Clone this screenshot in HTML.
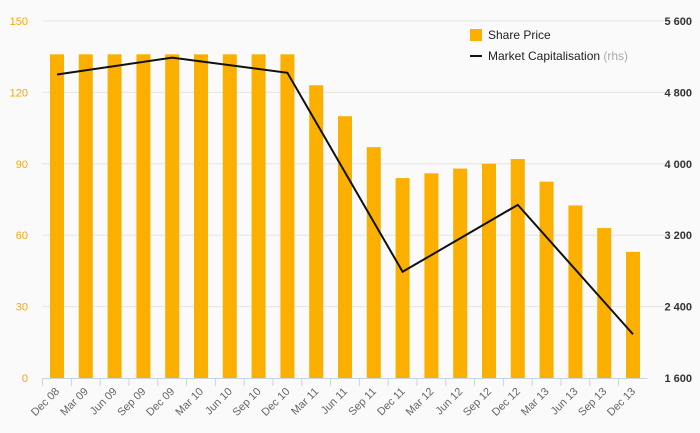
<!DOCTYPE html>
<html><head><meta charset="utf-8"><style>
body{margin:0;background:#fafafa;font-family:"Liberation Sans",sans-serif}
</style></head><body>
<svg id="c" width="700" height="433" xmlns="http://www.w3.org/2000/svg" style="display:block;background:#fafafa"></svg>
<script>
const categories=["Dec 08","Mar 09","Jun 09","Sep 09","Dec 09","Mar 10","Jun 10","Sep 10","Dec 10","Mar 11","Jun 11","Sep 11","Dec 11","Mar 12","Jun 12","Sep 12","Dec 12","Mar 13","Jun 13","Sep 13","Dec 13"];
const sharePrice=[136,136,136,136,136,136,136,136,136,123,110,97,84,86,88,90,92,82.5,72.5,63,53];
const marketCapIdx=[0,4,8,12,16,20];
const marketCap=[5000,5190,5020,2790,3540,2090];
const leftTicks=[0,30,60,90,120,150];
const rightTicks=[1600,2400,3200,4000,4800,5600];
const rightTickLabels=["1 600","2 400","3 200","4 000","4 800","5 600"];
const svg=document.getElementById('c');const NS='http://www.w3.org/2000/svg';
function mk(t,a,p){const e=document.createElementNS(NS,t);for(const k in a)e.setAttribute(k,a[k]);(p||svg).appendChild(e);return e;}
const x0=42.6,step=28.8,yB=378,yT=21;
const xc=i=>x0+step*(i+0.5);
const yL=v=>yB-(v/150)*(yB-yT);
const yR=v=>yB-((v-1600)/4000)*(yB-yT);
leftTicks.forEach((t,i)=>{
  if(t>0){const g=mk('line',{x1:x0,x2:690,y1:yL(t),y2:yL(t),stroke:'#e4e4e4','stroke-width':1});}
  const l=mk('text',{x:28,y:yL(t)+4,'text-anchor':'end','font-size':11,fill:'#f5a800'});l.textContent=t;
  
});
rightTicks.forEach((t,i)=>{
  const l=mk('text',{x:692,y:yR(t)+4,'text-anchor':'end','font-size':11,fill:'#333','font-weight':'bold'});l.textContent=rightTickLabels[i];
  
});
sharePrice.forEach((v,i)=>{
  const r=mk('rect',{x:xc(i)-7,y:yL(v),width:14,height:yB-yL(v),fill:'#fbb000'});
  
});
const ax=mk('line',{x1:x0,x2:x0+step*categories.length,y1:yB+0.5,y2:yB+0.5,stroke:'#c8d4e4','stroke-width':1});

categories.forEach((c,i)=>{
  const tx=x0+step*i;
  const tk=mk('line',{x1:tx,x2:tx,y1:yB,y2:yB+8,stroke:'#c8d4e4'});
  
  const cx=xc(i)+3,cy=yB+14;
  const l=mk('text',{x:cx,y:cy,'text-anchor':'end','font-size':11,fill:'#666',transform:`rotate(-45 ${cx} ${cy})`});l.textContent=c;
  
});
const pts=marketCap.map((v,i)=>xc(marketCapIdx[i])+','+yR(v)).join(' ');
const pl=mk('polyline',{points:pts,fill:'none',stroke:'#111','stroke-width':2});

const lg=mk('g',{});
mk('rect',{x:470,y:29,width:12,height:12,fill:'#fbb000'},lg);
const t1=mk('text',{x:488,y:39,'font-size':12,fill:'#222'},lg);t1.textContent='Share Price';
mk('line',{x1:470,x2:482,y1:56,y2:56,stroke:'#111','stroke-width':2},lg);
const t2=mk('text',{x:488,y:60,'font-size':12,fill:'#222'},lg);t2.textContent='Market Capitalisation ';
const ts=mk('tspan',{fill:'#aaa'},t2);ts.textContent='(rhs)';
</script>
</body></html>
